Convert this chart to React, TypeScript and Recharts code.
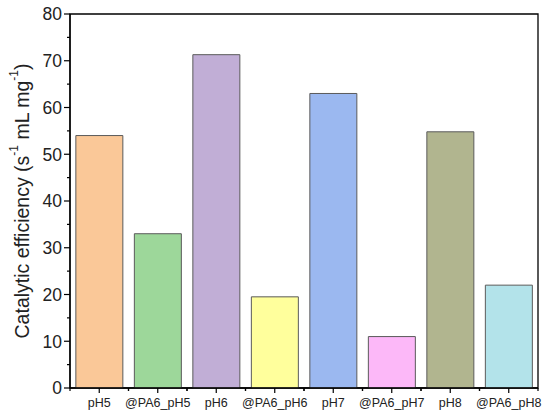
import React from 'react';
import { BarChart, Bar, XAxis, YAxis, Cell, ReferenceArea } from 'recharts';

const categories = ['pH5', '@PA6_pH5', 'pH6', '@PA6_pH6', 'pH7', '@PA6_pH7', 'pH8', '@PA6_pH8'];
const efficiency = [54.0, 33.0, 71.3, 19.5, 63.0, 11.0, 54.8, 22.0];
const barColors = ['#FAC898', '#9DD79A', '#C1AED6', '#FFFF9C', '#9BB8F0', '#FCB8F8', '#B1B58F', '#B3E3EA'];
const yTicks = [0, 5, 10, 15, 20, 25, 30, 35, 40, 45, 50, 55, 60, 65, 70, 75, 80];

const data = categories.map((name, i) => ({ name, value: efficiency[i] }));

const FONT = '"Liberation Sans", Arial, Helvetica, sans-serif';
const WIDTH = 550;
const HEIGHT = 420;
const PLOT_LEFT = 70;
const PLOT_RIGHT = 538;
const PLOT_TOP = 14;
const PLOT_BOTTOM = 388;
const BAND = (PLOT_RIGHT - PLOT_LEFT) / categories.length;

// y ticks: labelled majors every 10, short minors in between
const YTick = ({ y, payload }: any) => {
  const major = payload.value % 10 === 0;
  return (
    <g>
      <line x1={PLOT_LEFT - (major ? 6 : 3)} x2={PLOT_LEFT} y1={y} y2={y} stroke="#000" strokeWidth={1.2} />
      {major && (
        <text x={PLOT_LEFT - 8} y={y} dy="0.36em" textAnchor="end" fontSize={17.5} fill="#222" fontFamily={FONT}>
          {payload.value}
        </text>
      )}
    </g>
  );
};

// x ticks: major at category centre, minor at the band edges
const XTick = ({ x, payload }: any) => (
  <g>
    <line x1={x} x2={x} y1={PLOT_BOTTOM} y2={PLOT_BOTTOM + 5} stroke="#000" strokeWidth={1.2} />
    <line x1={x - BAND / 2} x2={x - BAND / 2} y1={PLOT_BOTTOM} y2={PLOT_BOTTOM + 3} stroke="#000" strokeWidth={1.2} />
    <line x1={x + BAND / 2} x2={x + BAND / 2} y1={PLOT_BOTTOM} y2={PLOT_BOTTOM + 3} stroke="#000" strokeWidth={1.2} />
    <text x={x} y={PLOT_BOTTOM + 19} textAnchor="middle" fontSize={12.5} fill="#222" fontFamily={FONT}>
      {payload.value}
    </text>
  </g>
);

const YLabel = () => {
  const cx = 22;
  const cy = (PLOT_TOP + PLOT_BOTTOM) / 2;
  return (
    <text
      x={cx}
      y={cy}
      transform={`rotate(-90, ${cx}, ${cy})`}
      textAnchor="middle"
      dominantBaseline="central"
      fontSize={19.5}
      fill="#222"
      fontFamily={FONT}
    >
      <tspan>Catalytic efficiency (s</tspan>
      <tspan fontSize={12} dy={-8}>-1</tspan>
      <tspan dy={8}> mL mg</tspan>
      <tspan fontSize={12} dy={-8}>-1</tspan>
      <tspan dy={8}>)</tspan>
    </text>
  );
};

export default function App() {
  return (
    <div style={{ position: 'absolute', left: 0, top: 0, width: WIDTH, height: HEIGHT, background: '#fff' }}>
      <BarChart
        width={WIDTH}
        height={HEIGHT}
        data={data}
        margin={{ top: PLOT_TOP, right: WIDTH - PLOT_RIGHT, bottom: 0, left: 0 }}
        barCategoryGap="10%"
      >
        <XAxis
          dataKey="name"
          height={HEIGHT - PLOT_BOTTOM}
          interval={0}
          tick={<XTick />}
          tickLine={false}
          axisLine={{ stroke: '#000', strokeWidth: 1.3 }}
        />
        <YAxis
          width={PLOT_LEFT}
          domain={[0, 80]}
          ticks={yTicks}
          interval={0}
          tick={<YTick />}
          tickLine={false}
          axisLine={{ stroke: '#000', strokeWidth: 1.3 }}
          label={<YLabel />}
        />
        <ReferenceArea y1={0} y2={80} fill="none" stroke="#000" strokeWidth={1.3} ifOverflow="visible" />
        <Bar dataKey="value" stroke="#5a5a5a" strokeWidth={1} isAnimationActive={false}>
          {data.map((d, i) => (
            <Cell key={d.name} fill={barColors[i]} />
          ))}
        </Bar>
      </BarChart>
    </div>
  );
}
